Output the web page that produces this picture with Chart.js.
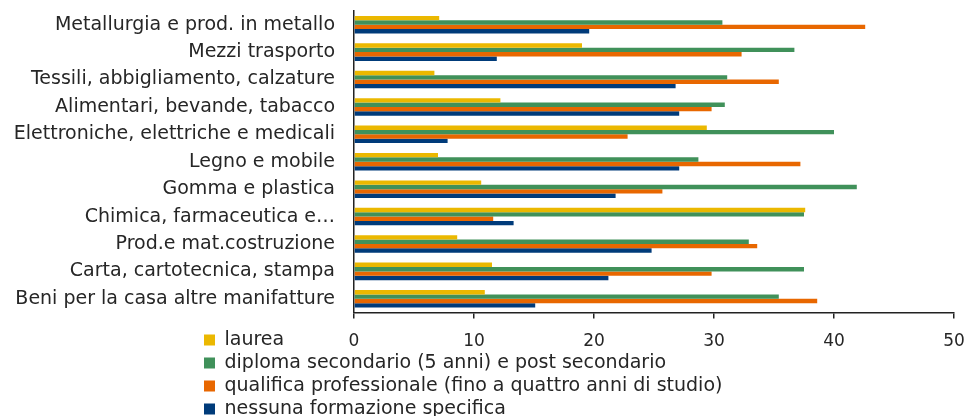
<!DOCTYPE html>
<html><head><meta charset="utf-8">
<script src="https://cdn.jsdelivr.net/npm/chart.js@4/dist/chart.umd.min.js"></script>
<style>html,body{margin:0;padding:0;background:#fff}#wrap{width:965px;height:416px;position:relative}</style>
</head><body><div id="wrap"><canvas id="c"></canvas></div>
<script>
const categories = [
  "Metallurgia e prod. in metallo",
  "Mezzi trasporto",
  "Tessili, abbigliamento, calzature",
  "Alimentari, bevande, tabacco",
  "Elettroniche, elettriche e medicali",
  "Legno e mobile",
  "Gomma e plastica",
  "Chimica, farmaceutica e\u2026",
  "Prod.e mat.costruzione",
  "Carta, cartotecnica, stampa",
  "Beni per la casa altre manifatture"
];
const seriesNames = [
  "laurea",
  "diploma secondario (5 anni) e post secondario",
  "qualifica professionale (fino a quattro anni di studio)",
  "nessuna formazione specifica"
];
const laurea    = [7.1, 19.0, 6.7, 12.2, 29.4, 7.0, 10.6, 37.6, 8.6, 11.5, 10.9];
const diploma   = [30.7, 36.7, 31.1, 30.9, 40.0, 28.7, 41.9, 37.5, 32.9, 37.5, 35.4];
const qualifica = [42.6, 32.3, 35.4, 29.8, 22.8, 37.2, 25.7, 11.6, 33.6, 29.8, 38.6];
const nessuna   = [19.6, 11.9, 26.8, 27.1, 7.8, 27.1, 21.8, 13.3, 24.8, 21.2, 15.1];
const xTicks = [0, 10, 20, 30, 40, 50];
const colors = ['#EBB800', '#40915A', '#E86700', '#003B7A'];

const FONT = "'DejaVu Sans', sans-serif";
const TEXT = '#262626';
const AXIS = '#222222';

const legendPlacer = {
  id: 'legendPlacer',
  afterLayout(chart) {
    const lg = chart.legend;
    if (!lg) return;
    lg.left = 200; lg.top = 326.5; lg.right = 965; lg.bottom = 480;
    lg.width = lg.right - lg.left; lg.height = lg.bottom - lg.top;
  }
};

const seriesValues = [laurea, diploma, qualifica, nessuna];
new Chart(document.getElementById('c'), {
  type: 'bar',
  data: {
    labels: categories,
    datasets: seriesNames.map((n, i) => ({
      label: n,
      data: seriesValues[i],
      backgroundColor: colors[i],
      borderWidth: 0,
      barPercentage: 1,
      categoryPercentage: 0.64
    }))
  },
  options: {
    indexAxis: 'y',
    responsive: true,
    maintainAspectRatio: false,
    animation: false,
    layout: { padding: { top: 11, right: 11, bottom: 0, left: 0 } },
    plugins: {
      tooltip: { enabled: false },
      legend: {
        display: true,
        position: 'left',
        align: 'start',
        maxWidth: 1,
        labels: {
          boxWidth: 11, boxHeight: 11, padding: 4,
          color: TEXT,
          font: { family: FONT, size: 19 }
        }
      }
    },
    scales: {
      x: {
        type: 'linear', min: 0, max: 50,
        afterBuildTicks: s => { s.ticks = xTicks.map(v => ({ value: v })); },
        afterFit: s => { s.height = 416 - 312.5; s.paddingLeft = 0; s.paddingRight = 0; },
        grid: { display: true, drawOnChartArea: false, drawTicks: true, tickLength: 6, color: AXIS, lineWidth: 1.5 },
        border: { display: true, color: AXIS, width: 1.5 },
        ticks: { color: TEXT, font: { family: FONT, size: 17 }, padding: 13, maxRotation: 0 }
      },
      y: {
        afterFit: s => { s.width = 353; s.paddingTop = 0; s.paddingBottom = 0; },
        grid: { display: false, drawTicks: false },
        border: { display: true, color: AXIS, width: 1.5 },
        ticks: { color: TEXT, font: { family: FONT, size: 19 }, padding: 19, autoSkip: false }
      }
    }
  },
  plugins: [legendPlacer]
});
</script>
</body></html>
